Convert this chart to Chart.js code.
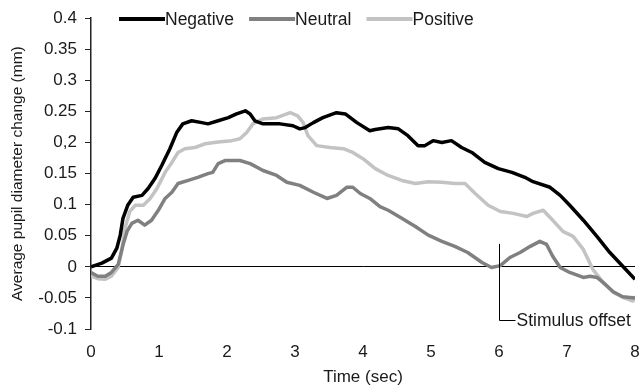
<!DOCTYPE html>
<html>
<head>
<meta charset="utf-8">
<script src="https://cdn.jsdelivr.net/npm/chart.js@4/dist/chart.umd.min.js"></script>
<style>
  html, body { margin: 0; padding: 0; background: #fff; }
  #wrap { width: 641px; height: 390px; position: relative; }
</style>
</head>
<body>
<div id="wrap"><canvas id="c" width="641" height="390"></canvas></div>
<script>
// ---- Data ----
const seriesNames = ['Negative', 'Neutral', 'Positive'];

const negTime = [0, 0.16, 0.30, 0.38, 0.43, 0.47, 0.54, 0.62, 0.75, 0.84, 0.94, 1.04, 1.16, 1.26, 1.35, 1.48, 1.63, 1.72, 1.87, 2.02, 2.14, 2.27, 2.34, 2.41, 2.53, 2.78, 2.97, 3.07, 3.15, 3.27, 3.41, 3.61, 3.74, 3.91, 4.10, 4.18, 4.37, 4.52, 4.66, 4.81, 4.91, 5.03, 5.16, 5.30, 5.45, 5.60, 5.79, 5.99, 6.19, 6.38, 6.50, 6.75, 6.90, 7.04, 7.24, 7.44, 7.63, 7.82, 8.0];
const negValues = [0, 0.006, 0.014, 0.03, 0.051, 0.078, 0.099, 0.112, 0.115, 0.126, 0.142, 0.163, 0.19, 0.216, 0.23, 0.235, 0.232, 0.23, 0.235, 0.24, 0.246, 0.251, 0.246, 0.235, 0.23, 0.23, 0.227, 0.222, 0.224, 0.232, 0.24, 0.248, 0.246, 0.232, 0.219, 0.221, 0.224, 0.222, 0.211, 0.195, 0.195, 0.203, 0.2, 0.203, 0.192, 0.184, 0.168, 0.158, 0.152, 0.144, 0.137, 0.128, 0.115, 0.099, 0.075, 0.049, 0.023, 0.001, -0.02];

const neuTime = [0, 0.10, 0.21, 0.30, 0.40, 0.47, 0.53, 0.60, 0.69, 0.79, 0.89, 0.99, 1.09, 1.19, 1.28, 1.43, 1.57, 1.72, 1.79, 1.87, 1.97, 2.09, 2.19, 2.34, 2.53, 2.73, 2.88, 3.07, 3.27, 3.47, 3.61, 3.76, 3.85, 3.96, 4.10, 4.25, 4.37, 4.57, 4.77, 4.96, 5.16, 5.35, 5.54, 5.75, 5.89, 6.02, 6.16, 6.31, 6.46, 6.60, 6.70, 6.79, 6.90, 7.04, 7.24, 7.34, 7.44, 7.53, 7.68, 7.82, 8.0];
const neuValues = [-0.009, -0.015, -0.015, -0.009, 0.004, 0.035, 0.057, 0.07, 0.075, 0.067, 0.075, 0.091, 0.11, 0.12, 0.134, 0.139, 0.144, 0.15, 0.152, 0.166, 0.171, 0.171, 0.171, 0.166, 0.155, 0.147, 0.136, 0.131, 0.12, 0.11, 0.115, 0.128, 0.128, 0.118, 0.11, 0.097, 0.091, 0.078, 0.065, 0.051, 0.041, 0.033, 0.023, 0.007, -0.001, 0.002, 0.015, 0.023, 0.033, 0.041, 0.036, 0.017, -0.001, -0.009, -0.017, -0.015, -0.017, -0.025, -0.04, -0.048, -0.05];

const posTime = [0, 0.10, 0.21, 0.30, 0.40, 0.45, 0.50, 0.57, 0.65, 0.77, 0.87, 0.97, 1.09, 1.19, 1.28, 1.38, 1.53, 1.68, 1.87, 2.07, 2.19, 2.29, 2.38, 2.53, 2.73, 2.93, 3.04, 3.12, 3.19, 3.32, 3.51, 3.71, 3.85, 4.00, 4.18, 4.37, 4.57, 4.77, 4.96, 5.16, 5.35, 5.50, 5.65, 5.84, 6.02, 6.21, 6.41, 6.50, 6.65, 6.79, 6.94, 7.09, 7.24, 7.38, 7.53, 7.68, 7.82, 7.97, 8.0];
const posValues = [-0.015, -0.019, -0.02, -0.015, -0.001, 0.025, 0.062, 0.089, 0.099, 0.099, 0.11, 0.126, 0.152, 0.168, 0.184, 0.19, 0.192, 0.198, 0.201, 0.203, 0.206, 0.216, 0.23, 0.238, 0.24, 0.248, 0.243, 0.232, 0.211, 0.195, 0.192, 0.19, 0.184, 0.174, 0.158, 0.147, 0.139, 0.134, 0.137, 0.136, 0.134, 0.134, 0.118, 0.099, 0.089, 0.086, 0.081, 0.086, 0.091, 0.075, 0.057, 0.049, 0.028, -0.004, -0.025, -0.041, -0.049, -0.055, -0.047];

const yTickLabels = ['-0.1', '-0.05', '0', '0.05', '0.1', '0.15', '0,2', '0.25', '0.3', '0.35', '0.4'];
const xTickLabels = ['0', '1', '2', '3', '4', '5', '6', '7', '8'];
const stimulusOffsetTime = 6;
const annotationText = 'Stimulus offset';
const yTitle = 'Average pupil diameter change (mm)';
const xTitle = 'Time (sec)';

// ---- Build ----
const FONT = '"Liberation Sans", Arial, sans-serif';
const TXT = '#1a1a1a';
function pts(t, v) { return t.map((x, i) => ({ x: x, y: v[i] })); }

const legendPlugin = {
  id: 'customLegend',
  afterDraw(chart) {
    const ctx = chart.ctx;
    ctx.save();
    ctx.font = '17.5px ' + FONT;
    ctx.textBaseline = 'middle';
    ctx.textAlign = 'left';
    let x = 119;
    const y = 19;
    chart.data.datasets.forEach(ds => {
      ctx.strokeStyle = ds.borderColor;
      ctx.lineWidth = 4;
      ctx.beginPath();
      ctx.moveTo(x, y);
      ctx.lineTo(x + 46, y);
      ctx.stroke();
      x += 46;
      ctx.fillStyle = TXT;
      ctx.fillText(ds.label, x, y + 1);
      x += ctx.measureText(ds.label).width + 15;
    });
    ctx.restore();
  }
};

const annotationPlugin = {
  id: 'stimOffset',
  afterDatasetsDraw(chart) {
    const ctx = chart.ctx;
    const xs = chart.scales.x, ys = chart.scales.y;
    const px = Math.round(xs.getPixelForValue(stimulusOffsetTime)) + 0.5;
    const yTop = ys.getPixelForValue(0.037);
    const yBot = Math.round(ys.getPixelForValue(-0.085)) + 0.5;
    ctx.save();
    ctx.strokeStyle = '#000';
    ctx.lineWidth = 1;
    ctx.beginPath();
    ctx.moveTo(px, yTop);
    ctx.lineTo(px, yBot);
    ctx.lineTo(px + 16, yBot);
    ctx.stroke();
    ctx.font = '17.5px ' + FONT;
    ctx.fillStyle = TXT;
    ctx.textBaseline = 'middle';
    ctx.textAlign = 'left';
    ctx.fillText(annotationText, px + 17, yBot + 1);
    ctx.restore();
  }
};

new Chart(document.getElementById('c'), {
  type: 'line',
  data: {
    datasets: [
      { label: seriesNames[0], data: pts(negTime, negValues), borderColor: '#000000', borderWidth: 3.5 },
      { label: seriesNames[1], data: pts(neuTime, neuValues), borderColor: '#808080', borderWidth: 3.5 },
      { label: seriesNames[2], data: pts(posTime, posValues), borderColor: '#c3c3c3', borderWidth: 3.5 }
    ]
  },
  options: {
    responsive: false,
    animation: false,
    events: [],
    elements: { point: { radius: 0 }, line: { tension: 0, borderCapStyle: 'butt', borderJoinStyle: 'round' } },
    layout: { padding: { top: 15.5, right: 6, left: 0, bottom: 0 } },
    plugins: { legend: { display: false }, tooltip: { enabled: false } },
    scales: {
      x: {
        type: 'linear', min: 0, max: 8,
        afterFit(s) { s.height = 61; s.paddingLeft = 0; s.paddingRight = 0; },
        grid: { display: false, drawTicks: false },
        border: { display: false },
        ticks: {
          stepSize: 1, padding: 13, color: TXT, font: { family: FONT, size: 17 },
          maxRotation: 0,
          callback: (v, i) => xTickLabels[i]
        },
        title: { display: true, text: xTitle, color: TXT, font: { family: FONT, size: 17 }, padding: { top: 0, bottom: 2 } }
      },
      y: {
        type: 'linear', min: -0.1, max: 0.4,
        afterFit(s) { s.width = 91; },
        grid: {
          drawOnChartArea: true,
          color: c => (c.tick && Math.abs(c.tick.value) < 1e-9) ? '#000' : 'rgba(0,0,0,0)',
          lineWidth: 1,
          tickColor: '#222',
          tickLength: 6
        },
        border: { display: true, color: '#222', width: 1.5 },
        ticks: {
          stepSize: 0.05, padding: 8, color: TXT, font: { family: FONT, size: 17 },
          callback: (v, i) => yTickLabels[i]
        },
        title: { display: true, text: yTitle, color: TXT, font: { family: FONT, size: 15.5 }, padding: { top: 8, bottom: 0 } }
      }
    }
  },
  plugins: [legendPlugin, annotationPlugin]
});
</script>
</body>
</html>
